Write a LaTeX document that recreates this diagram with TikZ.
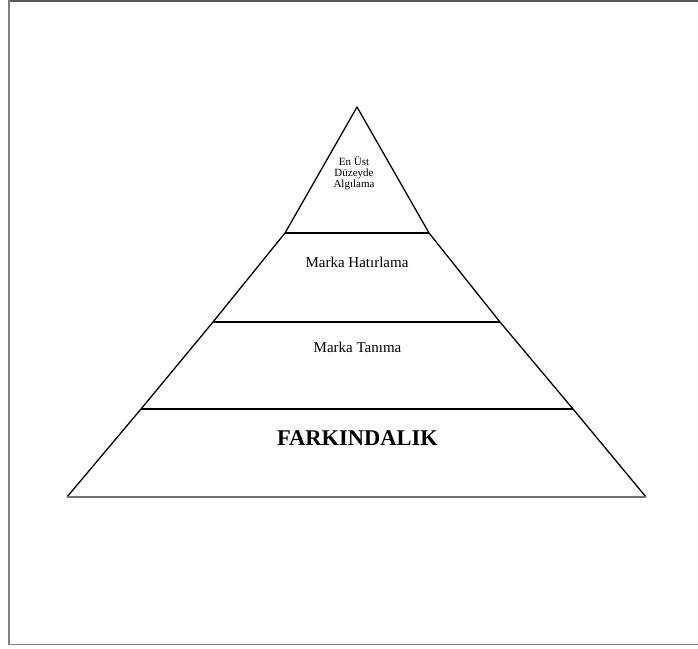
\documentclass[tikz,border=0pt]{standalone}
\usepackage{fontspec}
\setmainfont{Liberation Serif}
\usetikzlibrary{positioning}

\begin{document}
\begin{tikzpicture}[
  x=1pt, y=-1pt,
  level/.style={font=\fontsize{15}{15}\selectfont, anchor=base},
  toplevel/.style={font=\fontsize{11}{11}\selectfont, align=center},
  basetext/.style={font=\bfseries\fontsize{22.5}{22.5}\selectfont, anchor=base},
  side/.style={line width=1.3pt, line join=round},
  band/.style={line width=1.8pt},
  frameline/.style={draw=black!50, line width=1.5pt}
]
\useasboundingbox (0,0) rectangle (698,648);

% outer frame
\draw[frameline, draw=black!65] (8,0.75) -- (698,0.75);
\draw[frameline] (8.75,0) -- (8.75,645);
\draw[frameline] (8,644.5) -- (698,644.5);

% pyramid corners
\coordinate (apex) at (357,107);
\coordinate (l1) at (285,233); \coordinate (r1) at (429,233);
\coordinate (l2) at (213,322); \coordinate (r2) at (500,322);
\coordinate (l3) at (141,409); \coordinate (r3) at (573,409);
\coordinate (l4) at (67,497);  \coordinate (r4) at (646,497);

\draw[side] (l4) -- (l3) -- (l2) -- (l1) -- (apex) -- (r1) -- (r2) -- (r3) -- (r4);
\draw[band] (l1) -- (r1);
\draw[band] (l2) -- (r2);
\draw[band] (l3) -- (r3);
\draw[line width=1.3pt, black!55] (l4) -- (r4);

% level labels
\node[toplevel] (peak) at (354,173) {En Üst\\Düzeyde\\Algılama};
\node[level] (recall) at (357,267) {Marka Hatırlama};
\node[level] (recognition) at (357.5,352) {Marka Tanıma};
\node[basetext] (awareness) at (357.5,445) {FARKINDALIK};
\end{tikzpicture}
\end{document}
